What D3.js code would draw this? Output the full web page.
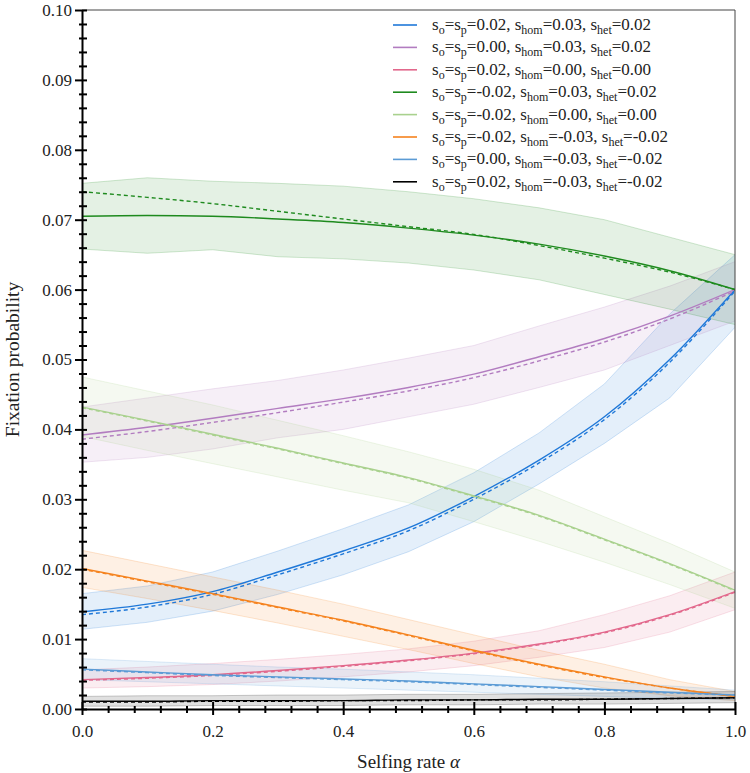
<!DOCTYPE html>
<html>
<head>
<meta charset="utf-8">
<script src="https://cdn.jsdelivr.net/npm/d3@7"></script>
<style>
  html, body { margin: 0; padding: 0; background: #fff; }
  svg { display: block; }
</style>
</head>
<body>
<svg id="chart" width="750" height="773"></svg>
<script>
// ---- data ----
const alpha = [0.0, 0.1, 0.2, 0.3, 0.4, 0.5, 0.6, 0.7, 0.8, 0.9, 1.0];

const xTicks = [0.0, 0.2, 0.4, 0.6, 0.8, 1.0];
const yTicks = [0.00, 0.01, 0.02, 0.03, 0.04, 0.05, 0.06, 0.07, 0.08, 0.09, 0.10];

// series labels: [s_o=s_p, s_hom, s_het]
const params = [
  ["0.02", "0.03", "0.02"],
  ["0.00", "0.03", "0.02"],
  ["0.02", "0.00", "0.00"],
  ["-0.02", "0.03", "0.02"],
  ["-0.02", "0.00", "0.00"],
  ["-0.02", "-0.03", "-0.02"],
  ["0.00", "-0.03", "-0.02"],
  ["0.02", "-0.03", "-0.02"]
];
const colors = ["#1f78d8", "#b27cc0", "#e2688c", "#1e8a1e", "#a9d18e", "#f5831f", "#5b9bd5", "#000000"];

// simulated (solid)
const sim1 = [0.0139, 0.0150, 0.0168, 0.0196, 0.0226, 0.0259, 0.0304, 0.0356, 0.0418, 0.0500, 0.0600];
const sim2 = [0.0392, 0.0403, 0.0416, 0.0430, 0.0444, 0.0460, 0.0479, 0.0504, 0.0530, 0.0562, 0.0600];
const sim3 = [0.0042, 0.0045, 0.0049, 0.0055, 0.0062, 0.0070, 0.0080, 0.0093, 0.0110, 0.0135, 0.0168];
const sim4 = [0.0705, 0.0706, 0.0705, 0.0701, 0.0696, 0.0688, 0.0678, 0.0665, 0.0648, 0.0627, 0.0600];
const sim5 = [0.0432, 0.0413, 0.0393, 0.0373, 0.0352, 0.0331, 0.0305, 0.0277, 0.0243, 0.0208, 0.0170];
const sim6 = [0.0201, 0.0183, 0.0165, 0.0146, 0.0127, 0.0106, 0.0084, 0.0064, 0.0046, 0.0030, 0.0018];
const sim7 = [0.0057, 0.0053, 0.0049, 0.0046, 0.0043, 0.0040, 0.0036, 0.0032, 0.0028, 0.0024, 0.0020];
const sim8 = [0.0011, 0.0011, 0.0012, 0.0012, 0.0012, 0.0013, 0.0013, 0.0014, 0.0014, 0.0015, 0.0016];

// theoretical (dashed)
const th1 = [0.0135, 0.0146, 0.0164, 0.0192, 0.0222, 0.0255, 0.0300, 0.0352, 0.0414, 0.0496, 0.0598];
const th2 = [0.0386, 0.0397, 0.0410, 0.0424, 0.0439, 0.0455, 0.0474, 0.0498, 0.0525, 0.0558, 0.0598];
const th3 = [0.0041, 0.0044, 0.0048, 0.0054, 0.0061, 0.0069, 0.0079, 0.0092, 0.0109, 0.0134, 0.0167];
const th4 = [0.0740, 0.0732, 0.0723, 0.0712, 0.0701, 0.0690, 0.0679, 0.0663, 0.0645, 0.0625, 0.0600];
const th5 = [0.0431, 0.0412, 0.0392, 0.0372, 0.0351, 0.0330, 0.0304, 0.0276, 0.0242, 0.0207, 0.0169];
const th6 = [0.0200, 0.0182, 0.0164, 0.0145, 0.0126, 0.0105, 0.0083, 0.0063, 0.0045, 0.0030, 0.0018];
const th7 = [0.0056, 0.0052, 0.0048, 0.0045, 0.0042, 0.0039, 0.0035, 0.0031, 0.0027, 0.0023, 0.0020];
const th8 = [0.0010, 0.0010, 0.0011, 0.0011, 0.0012, 0.0012, 0.0013, 0.0013, 0.0014, 0.0015, 0.0016];

// band upper / lower
const up1 = [0.0165, 0.0176, 0.0196, 0.0226, 0.0258, 0.0292, 0.0338, 0.0395, 0.0465, 0.0565, 0.0650];
const lo1 = [0.0114, 0.0124, 0.0140, 0.0164, 0.0192, 0.0225, 0.0268, 0.0322, 0.0380, 0.0445, 0.0546];
const up2 = [0.0432, 0.0445, 0.0458, 0.0470, 0.0485, 0.0502, 0.0520, 0.0548, 0.0575, 0.0605, 0.0640];
const lo2 = [0.0353, 0.0360, 0.0372, 0.0388, 0.0400, 0.0418, 0.0436, 0.0460, 0.0485, 0.0520, 0.0555];
const up3 = [0.0056, 0.0060, 0.0065, 0.0071, 0.0078, 0.0086, 0.0097, 0.0112, 0.0135, 0.0162, 0.0196];
const lo3 = [0.0030, 0.0032, 0.0035, 0.0040, 0.0046, 0.0053, 0.0062, 0.0074, 0.0088, 0.0110, 0.0142];
const up4 = [0.0752, 0.0760, 0.0755, 0.0752, 0.0748, 0.0740, 0.0730, 0.0717, 0.0700, 0.0675, 0.0650];
const lo4 = [0.0658, 0.0652, 0.0657, 0.0647, 0.0644, 0.0638, 0.0628, 0.0614, 0.0593, 0.0572, 0.0550];
const up5 = [0.0475, 0.0455, 0.0435, 0.0413, 0.0391, 0.0368, 0.0343, 0.0313, 0.0275, 0.0237, 0.0196];
const lo5 = [0.0390, 0.0370, 0.0351, 0.0332, 0.0313, 0.0295, 0.0268, 0.0240, 0.0210, 0.0178, 0.0144];
const up6 = [0.0227, 0.0208, 0.0189, 0.0170, 0.0150, 0.0128, 0.0106, 0.0084, 0.0064, 0.0042, 0.0025];
const lo6 = [0.0174, 0.0158, 0.0141, 0.0123, 0.0104, 0.0085, 0.0065, 0.0046, 0.0030, 0.0019, 0.0012];
const up7 = [0.0072, 0.0068, 0.0064, 0.0060, 0.0057, 0.0053, 0.0049, 0.0044, 0.0039, 0.0033, 0.0027];
const lo7 = [0.0042, 0.0039, 0.0036, 0.0033, 0.0030, 0.0027, 0.0024, 0.0021, 0.0018, 0.0015, 0.0013];
const up8 = [0.0018, 0.0019, 0.0019, 0.0020, 0.0020, 0.0021, 0.0021, 0.0022, 0.0023, 0.0024, 0.0025];
const lo8 = [0.0004, 0.0004, 0.0005, 0.0005, 0.0005, 0.0006, 0.0006, 0.0007, 0.0007, 0.0008, 0.0009];

const sims = [sim1, sim2, sim3, sim4, sim5, sim6, sim7, sim8];
const ths = [th1, th2, th3, th4, th5, th6, th7, th8];
const ups = [up1, up2, up3, up4, up5, up6, up7, up8];
const los = [lo1, lo2, lo3, lo4, lo5, lo6, lo7, lo8];

// ---- layout ----
const FONT = "'Liberation Serif', 'Times New Roman', Times, serif";
const svg = d3.select("#chart").style("font-family", FONT);
const margin = { left: 82, right: 15, top: 10, bottom: 64 };
const W = 750, H = 773;
const x = d3.scaleLinear().domain([0, 1]).range([margin.left, W - margin.right]);
const y = d3.scaleLinear().domain([0, 0.1]).range([H - margin.bottom, margin.top]);

svg.append("clipPath").attr("id", "clip").append("rect")
  .attr("x", x(0)).attr("y", y(0.1)).attr("width", x(1) - x(0)).attr("height", y(0) - y(0.1));

const plot = svg.append("g").attr("clip-path", "url(#clip)");

// bands
const area = d3.area().x((d, i) => x(alpha[i])).y0(d => y(d[0])).y1(d => y(d[1]));
const edge = d3.line().x((d, i) => x(alpha[i])).y(d => y(d));
sims.forEach((s, k) => {
  const c = colors[k];
  const pts = alpha.map((a, i) => [los[k][i], ups[k][i]]);
  plot.append("path").attr("d", area(pts))
    .attr("fill", c).attr("fill-opacity", 0.12).attr("stroke", "none");
  plot.append("path").attr("d", edge(ups[k])).attr("fill", "none")
    .attr("stroke", c).attr("stroke-opacity", 0.2).attr("stroke-width", 1);
  plot.append("path").attr("d", edge(los[k])).attr("fill", "none")
    .attr("stroke", c).attr("stroke-opacity", 0.2).attr("stroke-width", 1);
});

// lines
const line = d3.line().x((d, i) => x(alpha[i])).y(d => y(d)).curve(d3.curveMonotoneX);
sims.forEach((s, k) => {
  plot.append("path").attr("d", line(ths[k])).attr("fill", "none")
    .attr("stroke", colors[k]).attr("stroke-width", 1.4).attr("stroke-dasharray", "4,3");
  plot.append("path").attr("d", line(s)).attr("fill", "none")
    .attr("stroke", colors[k]).attr("stroke-width", 1.4);
});

// frame (top & right)
svg.append("line").attr("x1", x(0)).attr("x2", x(1)).attr("y1", y(0.1)).attr("y2", y(0.1))
  .attr("stroke", "#444").attr("stroke-width", 1);
svg.append("line").attr("x1", x(1)).attr("x2", x(1)).attr("y1", y(0.1)).attr("y2", y(0))
  .attr("stroke", "#444").attr("stroke-width", 1);

// y axis
const yAxis = svg.append("g").attr("transform", `translate(${x(0)},0)`)
  .call(d3.axisLeft(y).tickValues(yTicks).tickFormat(d3.format(".2f")).tickSizeOuter(0).tickPadding(4));
yAxis.attr("font-family", null);
yAxis.select(".domain").attr("stroke", "#000").attr("stroke-width", 2);
yAxis.selectAll(".tick line").attr("x1", 5).attr("x2", -7).attr("stroke-width", 2);
yAxis.selectAll(".tick text").style("font-family", FONT).style("font-size", "17px").attr("fill", "#222");
const yMinor = d3.range(0, 0.1001, 0.002).filter(v => Math.abs(v * 100 - Math.round(v * 100)) > 1e-6);
const yAxisMinor = svg.append("g").attr("transform", `translate(${x(0)},0)`)
  .call(d3.axisLeft(y).tickValues(yMinor).tickFormat("").tickSizeOuter(0));
yAxisMinor.select(".domain").remove();
yAxisMinor.selectAll(".tick line").attr("x1", 5).attr("x2", -3).attr("stroke-width", 2);

// x axis
const xAxis = svg.append("g").attr("transform", `translate(0,${y(0)})`)
  .call(d3.axisBottom(x).tickValues(xTicks).tickFormat(d3.format(".1f")).tickSizeOuter(0).tickPadding(10));
xAxis.attr("font-family", null);
xAxis.select(".domain").attr("stroke", "#000").attr("stroke-width", 2);
xAxis.selectAll(".tick line").attr("y1", -7).attr("y2", 6).attr("stroke-width", 2);
xAxis.selectAll(".tick text").style("font-family", FONT).style("font-size", "17px").attr("fill", "#222");
const xMinor = d3.range(0, 1.0001, 0.04).filter(v => Math.abs(v * 5 - Math.round(v * 5)) > 1e-6);
const xAxisMinor = svg.append("g").attr("transform", `translate(0,${y(0)})`)
  .call(d3.axisBottom(x).tickValues(xMinor).tickFormat("").tickSizeOuter(0));
xAxisMinor.select(".domain").remove();
xAxisMinor.selectAll(".tick line").attr("y1", -3).attr("y2", 4).attr("stroke-width", 2);

// axis titles
svg.append("text").attr("transform", `translate(19,${(y(0) + y(0.1)) / 2}) rotate(-90)`)
  .attr("text-anchor", "middle").style("font-family", FONT).style("font-size", "19.5px").attr("fill", "#222")
  .text("Fixation probability");
const xt = svg.append("text").attr("x", (x(0) + x(1)) / 2).attr("y", 768)
  .attr("text-anchor", "middle").style("font-family", FONT).style("font-size", "19px").attr("fill", "#222");
xt.append("tspan").text("Selfing rate ");
xt.append("tspan").attr("font-style", "italic").text("α");

// legend
const leg = svg.append("g").attr("transform", "translate(393,25)");
params.forEach((p, k) => {
  const g = leg.append("g").attr("transform", `translate(0,${k * 22.4})`);
  g.append("line").attr("x1", 0).attr("x2", 24).attr("y1", 0).attr("y2", 0)
    .attr("stroke", colors[k]).attr("stroke-width", 1.6);
  const t = g.append("text").attr("x", 39).attr("y", 5)
    .style("font-family", FONT).style("font-size", "17px").attr("fill", "#222");
  const parts = [["s", false], ["o", true], ["=s", false], ["p", true], ["=" + p[0] + ", s", false],
                 ["hom", true], ["=" + p[1] + ", s", false], ["het", true], ["=" + p[2], false]];
  parts.forEach(([s, sub], j) => {
    const ts = t.append("tspan").text(s);
    if (sub) ts.style("font-size", "12px").attr("dy", 4);
    else ts.attr("dy", j === 0 ? 0 : -4);
  });
});
</script>
</body>
</html>
